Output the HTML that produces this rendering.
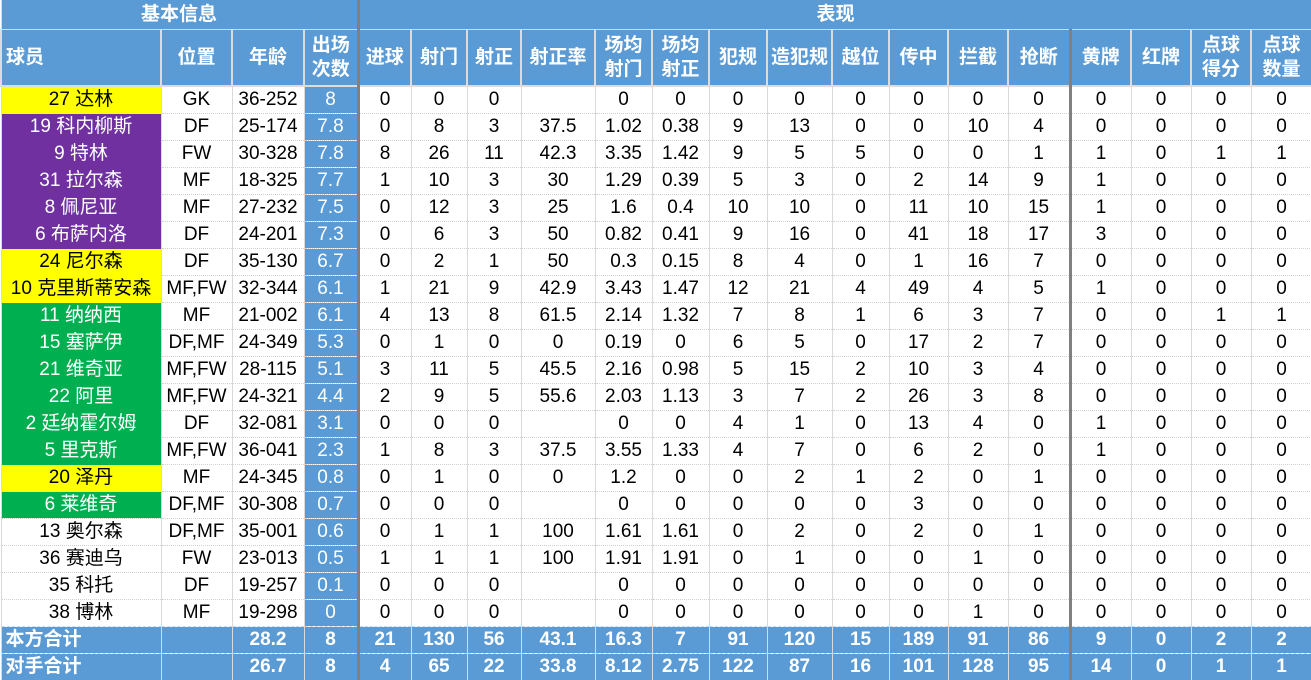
<!DOCTYPE html>
<html><head><meta charset="utf-8"><style>
html,body{margin:0;padding:0;background:#fff;width:1311px;height:680px;overflow:hidden}
table{border-collapse:collapse;table-layout:fixed;width:1311px;font-family:"Liberation Sans","Noto Sans CJK SC",sans-serif;font-size:19px;color:#000}
td{padding:0;text-align:center;white-space:nowrap;overflow:hidden;border-left:1px solid #d9d9d9;border-right:1px solid #d9d9d9;border-top:1px dotted #d0d0d0;height:26px;line-height:26px}
tr.h1 td{height:29px;line-height:29px;background:#5b9bd5;color:#fff;font-weight:bold;border:1px solid #d9d9d9;border-top:none}
tr.h2 td{height:55px;line-height:24px;background:#5b9bd5;color:#fff;font-weight:bold;border:2px solid #dcdcdc;border-top:1px solid #d0d0d0}
td.c{background:#5b9bd5;color:#fff}
td.y{background:#ffff00;border-top:none}
td.p{background:#7030a0;color:#fff;border-top:none}
td.g{background:#00b050;color:#fff;border-top:none}
tr.t td{background:#5b9bd5;color:#fff;font-weight:bold;border-top:1px dashed #c8dcf0;border-left:1px solid #d9d9d9}
td.L{text-align:left;padding-left:4px}
.s1{border-left:3px solid #808080 !important}
</style></head><body>
<table>
<colgroup><col style="width:160px"><col style="width:71px"><col style="width:72px"><col style="width:54px"><col style="width:53px"><col style="width:56px"><col style="width:54px"><col style="width:74px"><col style="width:57px"><col style="width:57px"><col style="width:58px"><col style="width:65px"><col style="width:57px"><col style="width:59px"><col style="width:60px"><col style="width:62px"><col style="width:61px"><col style="width:60px"><col style="width:60px"><col style="width:61px"></colgroup>
<tr class="h1"><td colspan="4">基本信息</td><td colspan="16" class="s1">表现</td></tr>
<tr class="h2"><td class="L">球员</td><td>位置</td><td>年龄</td><td>出场<br>次数</td><td class="s1">进球</td><td>射门</td><td>射正</td><td>射正率</td><td>场均<br>射门</td><td>场均<br>射正</td><td>犯规</td><td>造犯规</td><td>越位</td><td>传中</td><td>拦截</td><td>抢断</td><td class="s1">黄牌</td><td>红牌</td><td>点球<br>得分</td><td>点球<br>数量</td></tr>
<tr><td class="y">27 达林</td><td>GK</td><td>36-252</td><td class="c">8</td><td class="s1">0</td><td>0</td><td>0</td><td></td><td>0</td><td>0</td><td>0</td><td>0</td><td>0</td><td>0</td><td>0</td><td>0</td><td class="s1">0</td><td>0</td><td>0</td><td>0</td></tr>
<tr><td class="p">19 科内柳斯</td><td>DF</td><td>25-174</td><td class="c">7.8</td><td class="s1">0</td><td>8</td><td>3</td><td>37.5</td><td>1.02</td><td>0.38</td><td>9</td><td>13</td><td>0</td><td>0</td><td>10</td><td>4</td><td class="s1">0</td><td>0</td><td>0</td><td>0</td></tr>
<tr><td class="p">9 特林</td><td>FW</td><td>30-328</td><td class="c">7.8</td><td class="s1">8</td><td>26</td><td>11</td><td>42.3</td><td>3.35</td><td>1.42</td><td>9</td><td>5</td><td>5</td><td>0</td><td>0</td><td>1</td><td class="s1">1</td><td>0</td><td>1</td><td>1</td></tr>
<tr><td class="p">31 拉尔森</td><td>MF</td><td>18-325</td><td class="c">7.7</td><td class="s1">1</td><td>10</td><td>3</td><td>30</td><td>1.29</td><td>0.39</td><td>5</td><td>3</td><td>0</td><td>2</td><td>14</td><td>9</td><td class="s1">1</td><td>0</td><td>0</td><td>0</td></tr>
<tr><td class="p">8 佩尼亚</td><td>MF</td><td>27-232</td><td class="c">7.5</td><td class="s1">0</td><td>12</td><td>3</td><td>25</td><td>1.6</td><td>0.4</td><td>10</td><td>10</td><td>0</td><td>11</td><td>10</td><td>15</td><td class="s1">1</td><td>0</td><td>0</td><td>0</td></tr>
<tr><td class="p">6 布萨内洛</td><td>DF</td><td>24-201</td><td class="c">7.3</td><td class="s1">0</td><td>6</td><td>3</td><td>50</td><td>0.82</td><td>0.41</td><td>9</td><td>16</td><td>0</td><td>41</td><td>18</td><td>17</td><td class="s1">3</td><td>0</td><td>0</td><td>0</td></tr>
<tr><td class="y">24 尼尔森</td><td>DF</td><td>35-130</td><td class="c">6.7</td><td class="s1">0</td><td>2</td><td>1</td><td>50</td><td>0.3</td><td>0.15</td><td>8</td><td>4</td><td>0</td><td>1</td><td>16</td><td>7</td><td class="s1">0</td><td>0</td><td>0</td><td>0</td></tr>
<tr><td class="y">10 克里斯蒂安森</td><td>MF,FW</td><td>32-344</td><td class="c">6.1</td><td class="s1">1</td><td>21</td><td>9</td><td>42.9</td><td>3.43</td><td>1.47</td><td>12</td><td>21</td><td>4</td><td>49</td><td>4</td><td>5</td><td class="s1">1</td><td>0</td><td>0</td><td>0</td></tr>
<tr><td class="g">11 纳纳西</td><td>MF</td><td>21-002</td><td class="c">6.1</td><td class="s1">4</td><td>13</td><td>8</td><td>61.5</td><td>2.14</td><td>1.32</td><td>7</td><td>8</td><td>1</td><td>6</td><td>3</td><td>7</td><td class="s1">0</td><td>0</td><td>1</td><td>1</td></tr>
<tr><td class="g">15 塞萨伊</td><td>DF,MF</td><td>24-349</td><td class="c">5.3</td><td class="s1">0</td><td>1</td><td>0</td><td>0</td><td>0.19</td><td>0</td><td>6</td><td>5</td><td>0</td><td>17</td><td>2</td><td>7</td><td class="s1">0</td><td>0</td><td>0</td><td>0</td></tr>
<tr><td class="g">21 维奇亚</td><td>MF,FW</td><td>28-115</td><td class="c">5.1</td><td class="s1">3</td><td>11</td><td>5</td><td>45.5</td><td>2.16</td><td>0.98</td><td>5</td><td>15</td><td>2</td><td>10</td><td>3</td><td>4</td><td class="s1">0</td><td>0</td><td>0</td><td>0</td></tr>
<tr><td class="g">22 阿里</td><td>MF,FW</td><td>24-321</td><td class="c">4.4</td><td class="s1">2</td><td>9</td><td>5</td><td>55.6</td><td>2.03</td><td>1.13</td><td>3</td><td>7</td><td>2</td><td>26</td><td>3</td><td>8</td><td class="s1">0</td><td>0</td><td>0</td><td>0</td></tr>
<tr><td class="g">2 廷纳霍尔姆</td><td>DF</td><td>32-081</td><td class="c">3.1</td><td class="s1">0</td><td>0</td><td>0</td><td></td><td>0</td><td>0</td><td>4</td><td>1</td><td>0</td><td>13</td><td>4</td><td>0</td><td class="s1">1</td><td>0</td><td>0</td><td>0</td></tr>
<tr><td class="g">5 里克斯</td><td>MF,FW</td><td>36-041</td><td class="c">2.3</td><td class="s1">1</td><td>8</td><td>3</td><td>37.5</td><td>3.55</td><td>1.33</td><td>4</td><td>7</td><td>0</td><td>6</td><td>2</td><td>0</td><td class="s1">1</td><td>0</td><td>0</td><td>0</td></tr>
<tr><td class="y">20 泽丹</td><td>MF</td><td>24-345</td><td class="c">0.8</td><td class="s1">0</td><td>1</td><td>0</td><td>0</td><td>1.2</td><td>0</td><td>0</td><td>2</td><td>1</td><td>2</td><td>0</td><td>1</td><td class="s1">0</td><td>0</td><td>0</td><td>0</td></tr>
<tr><td class="g">6 莱维奇</td><td>DF,MF</td><td>30-308</td><td class="c">0.7</td><td class="s1">0</td><td>0</td><td>0</td><td></td><td>0</td><td>0</td><td>0</td><td>0</td><td>0</td><td>3</td><td>0</td><td>0</td><td class="s1">0</td><td>0</td><td>0</td><td>0</td></tr>
<tr><td>13 奥尔森</td><td>DF,MF</td><td>35-001</td><td class="c">0.6</td><td class="s1">0</td><td>1</td><td>1</td><td>100</td><td>1.61</td><td>1.61</td><td>0</td><td>2</td><td>0</td><td>2</td><td>0</td><td>1</td><td class="s1">0</td><td>0</td><td>0</td><td>0</td></tr>
<tr><td>36 赛迪乌</td><td>FW</td><td>23-013</td><td class="c">0.5</td><td class="s1">1</td><td>1</td><td>1</td><td>100</td><td>1.91</td><td>1.91</td><td>0</td><td>1</td><td>0</td><td>0</td><td>1</td><td>0</td><td class="s1">0</td><td>0</td><td>0</td><td>0</td></tr>
<tr><td>35 科托</td><td>DF</td><td>19-257</td><td class="c">0.1</td><td class="s1">0</td><td>0</td><td>0</td><td></td><td>0</td><td>0</td><td>0</td><td>0</td><td>0</td><td>0</td><td>0</td><td>0</td><td class="s1">0</td><td>0</td><td>0</td><td>0</td></tr>
<tr><td>38 博林</td><td>MF</td><td>19-298</td><td class="c">0</td><td class="s1">0</td><td>0</td><td>0</td><td></td><td>0</td><td>0</td><td>0</td><td>0</td><td>0</td><td>0</td><td>1</td><td>0</td><td class="s1">0</td><td>0</td><td>0</td><td>0</td></tr>
<tr class="t"><td class="L">本方合计</td><td></td><td>28.2</td><td>8</td><td class="s1">21</td><td>130</td><td>56</td><td>43.1</td><td>16.3</td><td>7</td><td>91</td><td>120</td><td>15</td><td>189</td><td>91</td><td>86</td><td class="s1">9</td><td>0</td><td>2</td><td>2</td></tr>
<tr class="t"><td class="L">对手合计</td><td></td><td>26.7</td><td>8</td><td class="s1">4</td><td>65</td><td>22</td><td>33.8</td><td>8.12</td><td>2.75</td><td>122</td><td>87</td><td>16</td><td>101</td><td>128</td><td>95</td><td class="s1">14</td><td>0</td><td>1</td><td>1</td></tr>
</table>
</body></html>
